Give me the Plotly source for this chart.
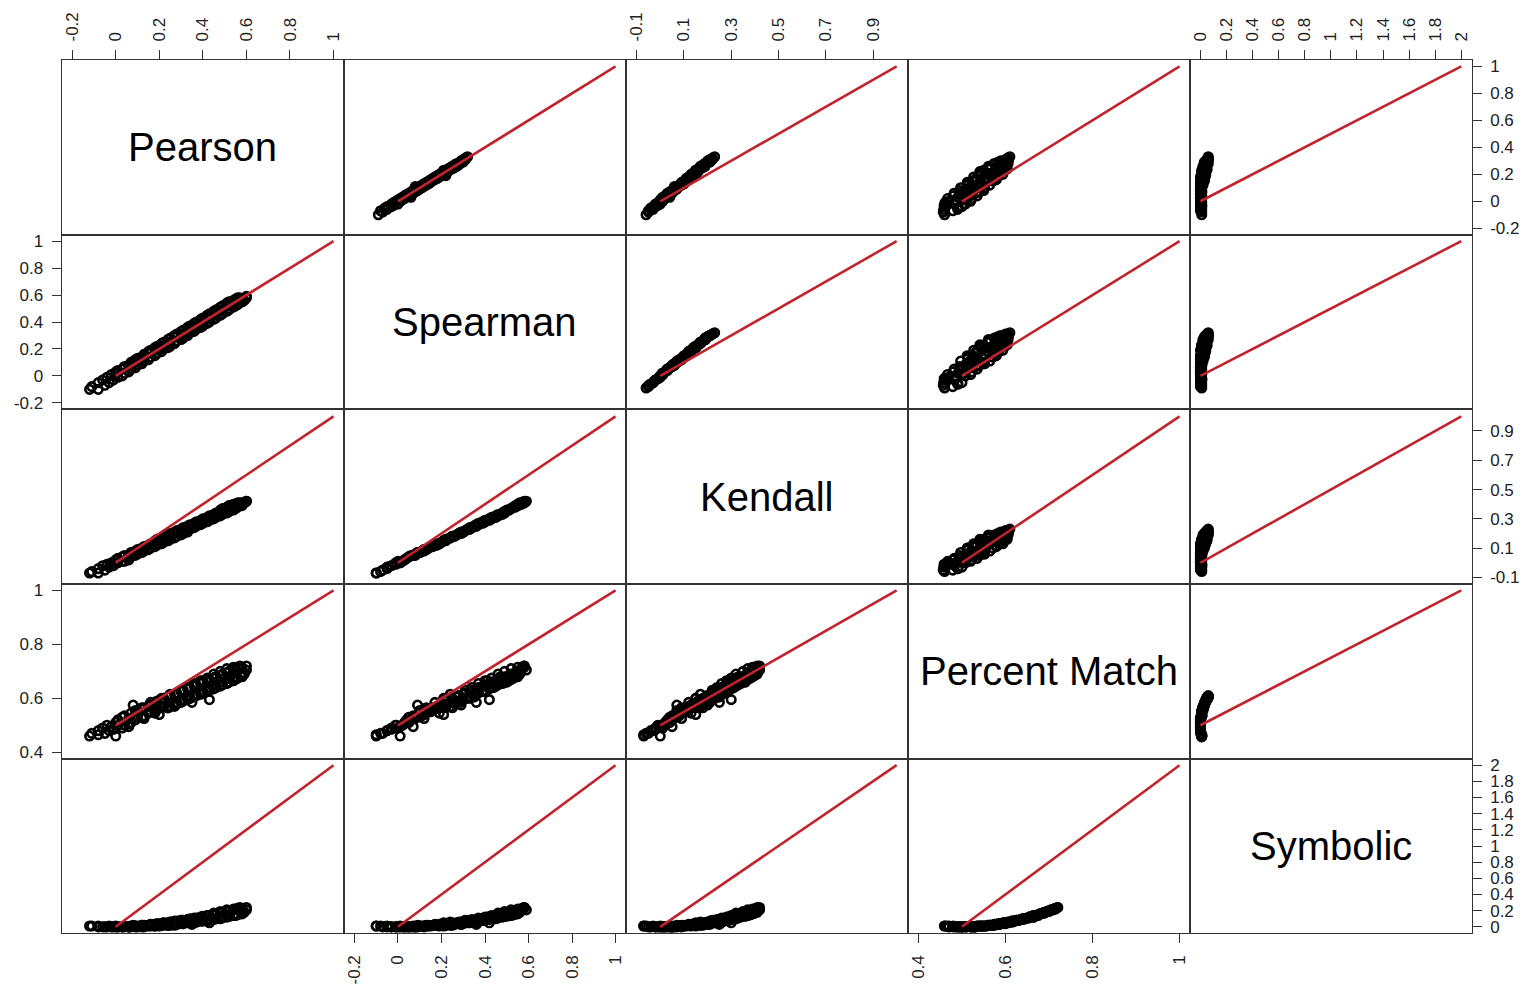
import plotly.graph_objects as go

# Variable names (diagonal labels)
names = ["Pearson", "Spearman", "Kendall", "Percent Match", "Symbolic"]

# Lower-triangle comparisons
lower_pearson = [-0.12, -0.11, -0.08, -0.08, -0.05, -0.06, -0.03, -0.04, -0.01, -0.02,
                 0.01, 0.00, 0.03, 0.01, 0.04, 0.03, 0.06, 0.04, 0.07, 0.06,
                 0.09, 0.07, 0.10, 0.09, 0.12, 0.10, 0.13, 0.12, 0.15, 0.13,
                 0.16, 0.15, 0.18, 0.16, 0.19, 0.18, 0.21, 0.19, 0.22, 0.21,
                 0.24, 0.22, 0.25, 0.24, 0.27, 0.25, 0.28, 0.27, 0.30, 0.28,
                 0.31, 0.30, 0.33, 0.31, 0.34, 0.33, 0.36, 0.34, 0.37, 0.36,
                 0.39, 0.37, 0.40, 0.39, 0.42, 0.40, 0.43, 0.42, 0.45, 0.43,
                 0.46, 0.45, 0.48, 0.46, 0.49, 0.48, 0.51, 0.49, 0.52, 0.51,
                 0.54, 0.52, 0.55, 0.54, 0.56, 0.55, 0.58, 0.58, 0.59, 0.60,
                 0.12, 0.22, 0.27, 0.34, 0.40, 0.43, 0.46, 0.52, 0.56, 0.58,
                 0.06, 0.09, 0.13, 0.16, 0.18, 0.21, 0.24, 0.25, 0.28, 0.30,
                 0.31, 0.33, 0.34, 0.36, 0.37, 0.39, 0.40, 0.42, 0.43, 0.45,
                 0.46, 0.48, 0.49, 0.51, 0.52, 0.54, 0.55, 0.57, 0.58, 0.60,
                 0.08, 0.00, 0.35, 0.20]
lower_spearman = [-0.10, -0.08, -0.10, -0.05, -0.07, -0.03, -0.05, -0.01, -0.03, 0.01,
                  -0.01, 0.03, 0.00, 0.04, 0.02, 0.05, 0.03, 0.07, 0.05, 0.08,
                  0.06, 0.10, 0.08, 0.12, 0.09, 0.13, 0.11, 0.14, 0.12, 0.16,
                  0.14, 0.18, 0.15, 0.19, 0.17, 0.21, 0.18, 0.22, 0.20, 0.24,
                  0.21, 0.25, 0.22, 0.27, 0.24, 0.28, 0.26, 0.30, 0.27, 0.31,
                  0.28, 0.33, 0.30, 0.34, 0.32, 0.36, 0.33, 0.37, 0.35, 0.39,
                  0.36, 0.40, 0.37, 0.42, 0.39, 0.43, 0.40, 0.45, 0.42, 0.46,
                  0.43, 0.48, 0.45, 0.49, 0.46, 0.51, 0.48, 0.52, 0.49, 0.54,
                  0.51, 0.55, 0.52, 0.56, 0.53, 0.57, 0.55, 0.57, 0.56, 0.58,
                  0.13, 0.21, 0.29, 0.33, 0.41, 0.42, 0.47, 0.50, 0.58, 0.55,
                  0.07, 0.10, 0.12, 0.17, 0.19, 0.22, 0.25, 0.24, 0.29, 0.31,
                  0.30, 0.34, 0.35, 0.37, 0.36, 0.40, 0.39, 0.43, 0.44, 0.46,
                  0.45, 0.49, 0.48, 0.52, 0.53, 0.55, 0.54, 0.58, 0.56, 0.59,
                  0.09, 0.01, 0.36, 0.21]
lower_kendall = [-0.07, -0.06, -0.07, -0.04, -0.05, -0.02, -0.03, -0.01, -0.02, 0.00,
                 0.00, 0.02, 0.01, 0.03, 0.01, 0.04, 0.02, 0.05, 0.04, 0.05,
                 0.05, 0.07, 0.06, 0.08, 0.07, 0.09, 0.08, 0.10, 0.09, 0.11,
                 0.10, 0.12, 0.11, 0.13, 0.12, 0.15, 0.13, 0.16, 0.14, 0.17,
                 0.15, 0.18, 0.16, 0.19, 0.17, 0.20, 0.18, 0.21, 0.19, 0.22,
                 0.20, 0.23, 0.21, 0.24, 0.23, 0.25, 0.24, 0.26, 0.25, 0.27,
                 0.26, 0.28, 0.27, 0.29, 0.28, 0.30, 0.29, 0.31, 0.30, 0.32,
                 0.31, 0.33, 0.32, 0.34, 0.33, 0.36, 0.34, 0.37, 0.35, 0.38,
                 0.36, 0.39, 0.37, 0.40, 0.38, 0.40, 0.39, 0.41, 0.41, 0.42,
                 0.09, 0.15, 0.20, 0.23, 0.29, 0.30, 0.33, 0.36, 0.41, 0.40,
                 0.05, 0.07, 0.09, 0.12, 0.13, 0.15, 0.18, 0.17, 0.21, 0.22,
                 0.21, 0.24, 0.25, 0.26, 0.26, 0.28, 0.28, 0.30, 0.31, 0.32,
                 0.32, 0.35, 0.34, 0.37, 0.38, 0.39, 0.39, 0.41, 0.40, 0.42,
                 0.07, 0.00, 0.25, 0.15]
lower_match = [0.46, 0.47, 0.465, 0.48, 0.47, 0.49, 0.48, 0.50, 0.485, 0.495,
               0.50, 0.51, 0.49, 0.52, 0.50, 0.53, 0.505, 0.535, 0.51, 0.525,
               0.52, 0.545, 0.53, 0.54, 0.53, 0.555, 0.535, 0.56, 0.545, 0.565,
               0.55, 0.57, 0.55, 0.575, 0.56, 0.58, 0.565, 0.59, 0.57, 0.585,
               0.565, 0.60, 0.57, 0.605, 0.57, 0.61, 0.58, 0.615, 0.585, 0.62,
               0.59, 0.625, 0.595, 0.63, 0.60, 0.635, 0.605, 0.64, 0.61, 0.645,
               0.615, 0.65, 0.62, 0.655, 0.625, 0.66, 0.63, 0.665, 0.635, 0.67,
               0.64, 0.675, 0.645, 0.68, 0.65, 0.685, 0.655, 0.69, 0.66, 0.695,
               0.665, 0.70, 0.67, 0.705, 0.675, 0.71, 0.68, 0.715, 0.69, 0.72,
               0.565, 0.60, 0.575, 0.60, 0.665, 0.595, 0.68, 0.66, 0.715, 0.685,
               0.495, 0.555, 0.525, 0.585, 0.545, 0.60, 0.565, 0.615, 0.585, 0.63,
               0.595, 0.64, 0.605, 0.655, 0.615, 0.665, 0.625, 0.675, 0.64, 0.69,
               0.65, 0.70, 0.66, 0.71, 0.675, 0.715, 0.68, 0.72, 0.695, 0.705,
               0.575, 0.46, 0.585, 0.54]
lower_symbolic = [0.01, 0.01, 0.01, 0.00, 0.00, 0.00, 0.01, 0.00, 0.00, 0.00,
                  0.00, 0.00, 0.00, 0.00, 0.00, 0.00, 0.00, 0.01, 0.00, 0.00,
                  0.00, 0.01, 0.00, 0.01, 0.00, 0.01, 0.01, 0.02, 0.01, 0.02,
                  0.01, 0.02, 0.01, 0.03, 0.02, 0.03, 0.02, 0.04, 0.02, 0.04,
                  0.02, 0.05, 0.02, 0.05, 0.02, 0.06, 0.03, 0.07, 0.04, 0.07,
                  0.04, 0.08, 0.05, 0.08, 0.05, 0.09, 0.06, 0.10, 0.06, 0.10,
                  0.07, 0.11, 0.07, 0.12, 0.08, 0.13, 0.08, 0.14, 0.09, 0.14,
                  0.10, 0.15, 0.10, 0.16, 0.11, 0.17, 0.12, 0.18, 0.13, 0.19,
                  0.14, 0.20, 0.14, 0.21, 0.15, 0.22, 0.16, 0.23, 0.18, 0.24,
                  0.02, 0.05, 0.03, 0.05, 0.12, 0.05, 0.16, 0.13, 0.23, 0.17,
                  0.00, 0.01, 0.00, 0.03, 0.01, 0.04, 0.02, 0.06, 0.03, 0.08,
                  0.04, 0.09, 0.05, 0.11, 0.06, 0.12, 0.08, 0.14, 0.10, 0.17,
                  0.11, 0.19, 0.13, 0.21, 0.15, 0.22, 0.16, 0.24, 0.19, 0.21,
                  0.02, 0.01, 0.03, 0.01]

# Upper-triangle comparisons
upper_pearson = [-0.10, -0.08, -0.07, -0.06, -0.05, -0.04, -0.04, -0.03, -0.02, -0.02,
                 -0.01, 0.00, 0.00, 0.01, 0.02, 0.02, 0.03, 0.04, 0.04, 0.05,
                 0.06, 0.06, 0.07, 0.08, 0.08, 0.09, 0.10, 0.10, 0.11, 0.12,
                 0.12, 0.13, 0.14, 0.14, 0.15, 0.16, 0.16, 0.17, 0.18, 0.18,
                 0.19, 0.20, 0.20, 0.21, 0.22, 0.22, 0.23, 0.24, 0.24, 0.25,
                 0.26, 0.26, 0.27, 0.28, 0.28, 0.29, 0.30, 0.30, 0.31, 0.32,
                 0.05, 0.09, 0.13, 0.17, 0.21, 0.25, 0.11, 0.02, 0.19, 0.27,
                 -0.06, -0.03, 0.01, 0.03, 0.05, 0.07, 0.09, 0.11, 0.13, 0.15,
                 0.17, 0.19, 0.21, 0.23, 0.25, 0.27, 0.29, 0.31, 0.33, 0.23]
upper_spearman = [-0.09, -0.07, -0.08, -0.05, -0.06, -0.03, -0.05, -0.02, -0.03, 0.00,
                  -0.02, 0.01, -0.01, 0.02, 0.01, 0.03, 0.02, 0.05, 0.03, 0.06,
                  0.05, 0.07, 0.06, 0.09, 0.07, 0.10, 0.09, 0.11, 0.10, 0.13,
                  0.11, 0.14, 0.13, 0.15, 0.14, 0.17, 0.15, 0.18, 0.17, 0.19,
                  0.18, 0.21, 0.19, 0.22, 0.21, 0.23, 0.22, 0.25, 0.23, 0.26,
                  0.25, 0.27, 0.26, 0.28, 0.27, 0.29, 0.29, 0.30, 0.30, 0.31,
                  0.05, 0.08, 0.12, 0.16, 0.20, 0.24, 0.12, 0.02, 0.20, 0.28,
                  -0.06, -0.03, 0.00, 0.06, 0.04, 0.08, 0.09, 0.08, 0.14, 0.15,
                  0.18, 0.22, 0.21, 0.21, 0.25, 0.27, 0.30, 0.31, 0.32, 0.23]
upper_kendall = [-0.06, -0.05, -0.05, -0.03, -0.04, -0.02, -0.03, -0.01, -0.02, 0.00,
                 -0.01, 0.01, 0.00, 0.01, 0.01, 0.02, 0.01, 0.03, 0.02, 0.04,
                 0.03, 0.05, 0.04, 0.06, 0.05, 0.07, 0.06, 0.07, 0.07, 0.09,
                 0.08, 0.10, 0.09, 0.10, 0.10, 0.12, 0.11, 0.12, 0.12, 0.13,
                 0.13, 0.14, 0.13, 0.15, 0.15, 0.16, 0.15, 0.17, 0.16, 0.18,
                 0.17, 0.19, 0.18, 0.19, 0.19, 0.20, 0.20, 0.21, 0.21, 0.22,
                 0.03, 0.06, 0.09, 0.11, 0.14, 0.17, 0.08, 0.01, 0.14, 0.19,
                 -0.04, -0.02, 0.00, 0.04, 0.03, 0.05, 0.06, 0.06, 0.10, 0.11,
                 0.12, 0.15, 0.15, 0.15, 0.17, 0.19, 0.21, 0.22, 0.23, 0.16]
upper_match = [0.46, 0.457, 0.479, 0.458, 0.491, 0.46, 0.50, 0.459, 0.483, 0.508,
               0.461, 0.52, 0.47, 0.504, 0.467, 0.522, 0.491, 0.535, 0.48, 0.524,
               0.482, 0.532, 0.501, 0.55, 0.495, 0.528, 0.552, 0.497, 0.546, 0.514,
               0.564, 0.513, 0.552, 0.512, 0.571, 0.534, 0.579, 0.533, 0.577, 0.527,
               0.585, 0.544, 0.594, 0.543, 0.586, 0.541, 0.595, 0.564, 0.604, 0.563,
               0.601, 0.561, 0.60, 0.574, 0.606, 0.582, 0.606, 0.589, 0.607, 0.605,
               0.509, 0.523, 0.538, 0.553, 0.568, 0.583, 0.521, 0.507, 0.565, 0.585,
               0.49, 0.465, 0.485, 0.515, 0.495, 0.54, 0.51, 0.535, 0.545, 0.525,
               0.56, 0.57, 0.555, 0.58, 0.59, 0.595, 0.595, 0.60, 0.61, 0.55]
upper_symbolic = [0.01, 0.01, 0.00, 0.01, 0.00, 0.01, 0.00, 0.01, 0.00, 0.00,
                  0.01, 0.00, 0.00, 0.00, 0.01, 0.00, 0.00, 0.01, 0.00, 0.00,
                  0.00, 0.01, 0.00, 0.01, 0.00, 0.00, 0.01, 0.00, 0.01, 0.00,
                  0.02, 0.00, 0.01, 0.00, 0.03, 0.01, 0.03, 0.01, 0.03, 0.00,
                  0.04, 0.01, 0.04, 0.01, 0.04, 0.01, 0.05, 0.02, 0.05, 0.02,
                  0.05, 0.02, 0.05, 0.03, 0.06, 0.03, 0.06, 0.04, 0.06, 0.06,
                  0.00, 0.00, 0.01, 0.01, 0.02, 0.03, 0.00, 0.00, 0.02, 0.04,
                  0.00, 0.01, 0.00, 0.00, 0.00, 0.01, 0.00, 0.01, 0.01, 0.00,
                  0.02, 0.02, 0.02, 0.03, 0.04, 0.05, 0.05, 0.05, 0.06, 0.01]

# Reference line: value of each measure at zero and at perfect agreement
line_from = [0, 0, 0, 0.5, 0]
line_to = [1, 1, 1, 1, 2]

# Tick marks for each measure
corr_ticks = [-0.2, 0, 0.2, 0.4, 0.6, 0.8, 1]
corr_labels = ["-0.2", "0", "0.2", "0.4", "0.6", "0.8", "1"]
kendall_ticks = [-0.1, 0.1, 0.3, 0.5, 0.7, 0.9]
kendall_labels = ["-0.1", "0.1", "0.3", "0.5", "0.7", "0.9"]
match_ticks = [0.4, 0.6, 0.8, 1]
match_labels = ["0.4", "0.6", "0.8", "1"]
symbolic_ticks = [0, 0.2, 0.4, 0.6, 0.8, 1, 1.2, 1.4, 1.6, 1.8, 2]
symbolic_labels = ["0", "0.2", "0.4", "0.6", "0.8", "1", "1.2", "1.4", "1.6", "1.8", "2"]

lower = [lower_pearson, lower_spearman, lower_kendall, lower_match, lower_symbolic]
upper = [upper_pearson, upper_spearman, upper_kendall, upper_match, upper_symbolic]
ticks = [(corr_ticks, corr_labels), (corr_ticks, corr_labels),
         (kendall_ticks, kendall_labels), (match_ticks, match_labels),
         (symbolic_ticks, symbolic_labels)]
ranges = [[-0.248, 1.048], [-0.248, 1.048], [-0.145, 1.048],
          [0.376, 1.024], [-0.08, 2.08]]

# Panel layout (pixels)
W, H = 1524, 986
col_px = [61.7, 344, 626, 908, 1190, 1471.7]
row_px = [60, 234.7, 409.3, 584, 758.7, 933.3]

FONT = "Arial, 'Liberation Sans', sans-serif"
BOX = "#333333"
RED = "#C0232B"

fig = go.Figure()
layout = dict(width=W, height=H, autosize=False,
              margin=dict(l=0, r=0, t=0, b=0, pad=0),
              paper_bgcolor="white", plot_bgcolor="white",
              showlegend=False, hovermode=False,
              font=dict(family=FONT, color="#222222"))
annotations = []

for i in range(5):
    for j in range(5):
        n = i * 5 + j + 1
        sfx = "" if n == 1 else str(n)
        xd = [col_px[j] / W, col_px[j + 1] / W]
        yd = [1 - row_px[i + 1] / H, 1 - row_px[i] / H]

        common = dict(showgrid=False, zeroline=False, showline=True, mirror=True,
                      linecolor=BOX, linewidth=1.2, ticks="", showticklabels=False,
                      fixedrange=True, automargin=False)
        xa = dict(domain=xd, anchor="y" + sfx, range=ranges[j], **common)
        ya = dict(domain=yd, anchor="x" + sfx, range=ranges[i], **common)

        tick_style = dict(ticks="outside", ticklen=9, tickwidth=1, tickcolor=BOX,
                          showticklabels=True,
                          tickfont=dict(size=17, family=FONT, color="#222222"))
        if (i == 0 and j % 2 == 0) or (i == 4 and j % 2 == 1):
            xa.update(tick_style)
            xa.update(tickvals=ticks[j][0], ticktext=ticks[j][1], tickangle=-90,
                      side="top" if i == 0 else "bottom", ticklabelstandoff=5)
        if (j == 0 and i % 2 == 1) or (j == 4 and i % 2 == 0):
            ya.update(tick_style)
            ya.update(tickvals=ticks[i][0], ticktext=ticks[i][1],
                      side="left" if j == 0 else "right", ticklabelstandoff=5)

        layout["xaxis" + sfx] = xa
        layout["yaxis" + sfx] = ya

        if i == j:
            # empty panel holding the measure's name
            fig.add_trace(go.Scatter(
                x=[ranges[j][0]], y=[ranges[i][0]], mode="markers",
                xaxis="x" + sfx, yaxis="y" + sfx,
                marker=dict(opacity=0), hoverinfo="skip"))
            annotations.append(dict(x=(xd[0] + xd[1]) / 2, y=(yd[0] + yd[1]) / 2,
                                    xref="paper", yref="paper", showarrow=False,
                                    xanchor="center", yanchor="middle",
                                    text=names[i],
                                    font=dict(size=40, family=FONT, color="black")))
            continue

        data = lower if i > j else upper
        fig.add_trace(go.Scatter(
            x=data[j], y=data[i], mode="markers", xaxis="x" + sfx, yaxis="y" + sfx,
            marker=dict(symbol="circle-open", size=8.5, color="black", line=dict(width=2.6)),
            hoverinfo="skip"))
        fig.add_trace(go.Scatter(
            x=[line_from[j], line_to[j]], y=[line_from[i], line_to[i]],
            mode="lines", xaxis="x" + sfx, yaxis="y" + sfx,
            line=dict(color=RED, width=2.6), hoverinfo="skip"))

layout["annotations"] = annotations
fig.update_layout(**layout)
fig.write_html("out.html")
